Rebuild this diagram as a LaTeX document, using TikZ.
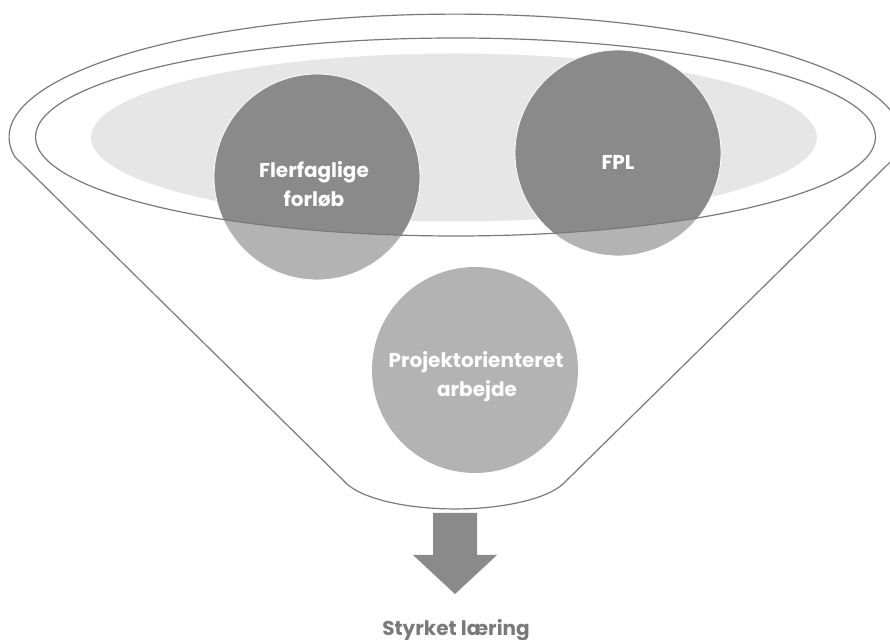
\documentclass[tikz,border=0pt]{standalone}
\usepackage{fontspec}
\setmainfont{Poppins}
\begin{document}
\begin{tikzpicture}[x=1pt,y=1pt,
  funnelline/.style={draw=linegray,line width=1.2pt},
  bubble/.style={circle,minimum size=206pt,inner sep=0pt},
  bubbletext/.style={anchor=base,text=white,font=\bfseries\fontsize{20}{24}\selectfont,inner sep=0pt},
  resulttext/.style={anchor=base,text=linegray,font=\bfseries\fontsize{20}{24}\selectfont,inner sep=0pt}]
\definecolor{linegray}{HTML}{7A7A7A}
\definecolor{dimgray}{HTML}{8A8A8A}
\definecolor{softgray}{HTML}{B3B3B3}
\definecolor{palegray}{HTML}{E6E6E6}
\useasboundingbox (0,0) rectangle (890,639);

% pale core of the funnel mouth
\fill[palegray] (454,501.5) ellipse[x radius=363, y radius=84];

% funnel outline: rim, sides and rounded spout
\coordinate (rimL) at (15,482);
\coordinate (spoutL) at (346,156);
\coordinate (spoutR) at (564,156);
\draw[funnelline] (spoutL) -- (rimL)
  arc[start angle=189.3, end angle=-9.3, x radius=446, y radius=123]
  -- (spoutR)
  arc[start angle=-18.5, end angle=-161.5, x radius=115, y radius=38]
  -- cycle;

% three bubbles
\node[bubble,fill=softgray] (fler) at (317,462) {};
\node[bubble,fill=softgray] (fpl)  at (618,486) {};
\node[bubble,fill=softgray] (proj) at (475,269) {};

% darker where the bubbles lie inside the rim
\begin{scope}
  \clip (455.5,502) ellipse[x radius=420, y radius=99];
  \fill[dimgray] (fler.center) circle[radius=103];
  \fill[dimgray] (fpl.center) circle[radius=103];
\end{scope}
\draw[white,line width=0.8pt] (fler.center) circle[radius=103];
\draw[white,line width=0.8pt] (fpl.center) circle[radius=103];

% inner rim line
\draw[funnelline] (455.5,502) ellipse[x radius=420, y radius=99];

% bubble labels
\node[bubbletext] (fler1) at (314,461) {Flerfaglige};
\node[bubbletext] (fler2) at (314,432) {forløb};
\node[bubbletext] (fpl1)  at (618,469) {FPL};
\node[bubbletext] (proj1) at (476,271) {Projektorienteret};
\node[bubbletext] (proj2) at (477,242) {arbejde};

% output arrow
\fill[dimgray] (433,126) -- (477,126) -- (477,84) -- (497,84) -- (455,45)
  -- (413,84) -- (433,84) -- cycle;
\node[resulttext] (result) at (456,4) {Styrket læring};
\end{tikzpicture}
\end{document}
